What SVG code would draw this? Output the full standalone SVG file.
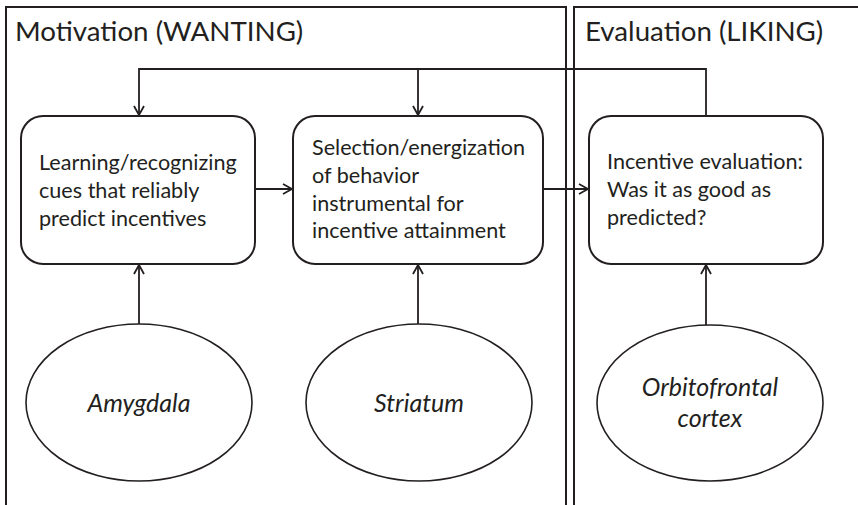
<svg xmlns="http://www.w3.org/2000/svg" width="858" height="505" viewBox="0 0 858 505">
<defs>
<style>
.panel{fill:none;stroke:#231f20;stroke-width:2}
.box{fill:#fff;stroke:#231f20;stroke-width:2}
.ell{fill:#fff;stroke:#231f20;stroke-width:1.6}
.con{fill:none;stroke:#231f20;stroke-width:1.8}
.title{font-family:Lato,"Liberation Sans",sans-serif;font-size:27.7px;fill:#231f20}
.txt{font-family:Lato,"Liberation Sans",sans-serif;font-size:21.6px;fill:#231f20}
.it{font-family:Lato,"Liberation Sans",sans-serif;font-size:25px;font-style:italic;fill:#231f20}
</style>
<marker id="arr" viewBox="0 0 10 12" refX="10" refY="6" markerWidth="10" markerHeight="12" markerUnits="userSpaceOnUse" orient="auto">
<path d="M1,1 L10,6 L1,11" fill="none" stroke="#231f20" stroke-width="1.8"/>
</marker>
</defs>
<g id="panel-wanting">
<rect class="panel" x="6" y="7" width="560" height="510"/>
<text class="title" x="15" y="41">Motivation (WANTING)</text>
</g>
<g id="panel-liking">
<rect class="panel" x="574" y="7" width="300" height="510"/>
<text class="title" x="585" y="41">Evaluation (LIKING)</text>
</g>
<g id="connectors">
<polyline class="con" points="706,116 706,69 139,69 139,115" marker-end="url(#arr)"/>
<line class="con" x1="418" y1="69" x2="418" y2="115" marker-end="url(#arr)"/>
<line class="con" x1="255" y1="189" x2="292" y2="189" marker-end="url(#arr)"/>
<line class="con" x1="543" y1="189" x2="588" y2="189" marker-end="url(#arr)"/>
<line class="con" x1="139" y1="324" x2="139" y2="265" marker-end="url(#arr)"/>
<line class="con" x1="418" y1="324" x2="418" y2="265" marker-end="url(#arr)"/>
<line class="con" x1="706" y1="325" x2="706" y2="265" marker-end="url(#arr)"/>
</g>
<g id="box-learning">
<rect class="box" x="21" y="116" width="234" height="148" rx="22"/>
<text class="txt" x="39" y="170">Learning/recognizing</text>
<text class="txt" x="39" y="198">cues that reliably</text>
<text class="txt" x="39" y="226">predict incentives</text>
</g>
<g id="box-selection">
<rect class="box" x="293" y="116" width="250" height="148" rx="22"/>
<text class="txt" x="312" y="155">Selection/energization</text>
<text class="txt" x="312" y="183">of behavior</text>
<text class="txt" x="312" y="211">instrumental for</text>
<text class="txt" x="312" y="238">incentive attainment</text>
</g>
<g id="box-evaluation">
<rect class="box" x="589" y="116" width="234" height="148" rx="22"/>
<text class="txt" x="607" y="169">Incentive evaluation:</text>
<text class="txt" x="607" y="197">Was it as good as</text>
<text class="txt" x="607" y="225">predicted?</text>
</g>
<g id="ell-amygdala">
<ellipse class="ell" cx="139" cy="402.5" rx="113" ry="78.5"/>
<text class="it" x="139" y="412" text-anchor="middle">Amygdala</text>
</g>
<g id="ell-striatum">
<ellipse class="ell" cx="419" cy="402.5" rx="113" ry="78.5"/>
<text class="it" x="419" y="412" text-anchor="middle">Striatum</text>
</g>
<g id="ell-ofc">
<ellipse class="ell" cx="710" cy="403" rx="113" ry="78"/>
<text class="it" x="710" y="396" text-anchor="middle">Orbitofrontal</text>
<text class="it" x="710" y="427" text-anchor="middle">cortex</text>
</g>
</svg>
